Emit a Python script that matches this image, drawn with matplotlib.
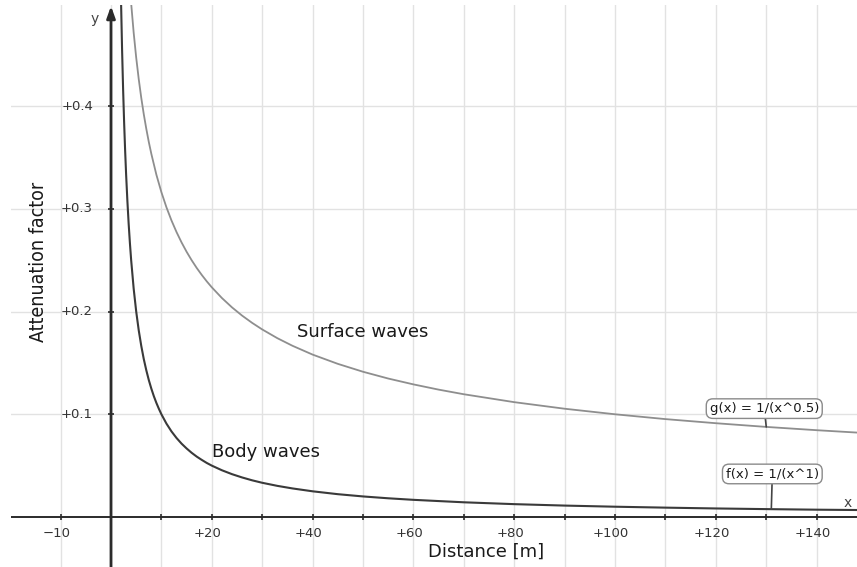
"""Затухание объёмных и поверхностных волн с расстоянием (стиль GeoGebra)."""

from __future__ import annotations

import matplotlib

matplotlib.use("Agg")

import matplotlib.pyplot as plt
from matplotlib.transforms import offset_copy


BODY_DISTANCE = [1.9, 2, 2.2, 2.4, 2.6, 2.8, 3, 3.25, 3.5, 3.75, 4, 4.5, 5,
                 5.5, 6, 6.5, 7, 7.5, 8, 8.5, 9, 9.5, 10, 11, 12, 13, 14, 15,
                 16, 17, 18, 19, 20, 22, 24, 26, 28, 30, 33, 36, 40, 45, 50,
                 55, 60, 70, 80, 90, 100, 110, 120, 131, 140, 150]
BODY_FACTOR = [0.5263, 0.5, 0.4545, 0.4167, 0.3846, 0.3571, 0.3333, 0.3077,
               0.2857, 0.2667, 0.25, 0.2222, 0.2, 0.1818, 0.1667, 0.1538,
               0.1429, 0.1333, 0.125, 0.1176, 0.1111, 0.1053, 0.1, 0.0909,
               0.0833, 0.0769, 0.0714, 0.0667, 0.0625, 0.0588, 0.0556, 0.0526,
               0.05, 0.0455, 0.0417, 0.0385, 0.0357, 0.0333, 0.0303, 0.0278,
               0.025, 0.0222, 0.02, 0.0182, 0.0167, 0.0143, 0.0125, 0.0111,
               0.01, 0.0091, 0.0083, 0.0076, 0.0071, 0.0067]

SURFACE_DISTANCE = [3.8, 4, 4.5, 5, 5.5, 6, 6.5, 7, 7.5, 8, 9, 10, 11, 12, 13,
                    14, 15, 16, 17, 18, 19, 20, 22, 24, 26, 28, 30, 33, 36, 40,
                    45, 50, 55, 60, 65, 70, 80, 90, 100, 110, 120, 130, 140, 150]
SURFACE_FACTOR = [0.513, 0.5, 0.4714, 0.4472, 0.4264, 0.4082, 0.3922, 0.378,
                  0.3651, 0.3536, 0.3333, 0.3162, 0.3015, 0.2887, 0.2774,
                  0.2673, 0.2582, 0.25, 0.2425, 0.2357, 0.2294, 0.2236, 0.2132,
                  0.2041, 0.1961, 0.189, 0.1826, 0.1741, 0.1667, 0.1581,
                  0.1491, 0.1414, 0.1348, 0.1291, 0.124, 0.1195, 0.1118,
                  0.1054, 0.1, 0.0953, 0.0913, 0.0877, 0.0845, 0.0816]

X_TICKS = [-10, 20, 40, 60, 80, 100, 120, 140]
X_TICK_LABELS = ["\u221210", "+20", "+40", "+60", "+80", "+100", "+120", "+140"]
X_MINOR = [-10, 0, 10, 20, 30, 40, 50, 60, 70, 80, 90, 100, 110, 120, 130, 140, 150]

Y_TICKS = [0.1, 0.2, 0.3, 0.4]
Y_TICK_LABELS = ["+0.1", "+0.2", "+0.3", "+0.4"]

BODY_LABEL = "f(x) = 1/(x^1)"
SURFACE_LABEL = "g(x) = 1/(x^0.5)"
BODY_LABEL_AT = 131
SURFACE_LABEL_AT = 130

X_LIMITS = (-19.84, 148.0)
Y_LIMITS = (-0.0487, 0.4985)

AXIS_COLOR = "#2b2b2b"
GRID_COLOR = "#e2e2e2"
BODY_COLOR = "#3a3a3a"
SURFACE_COLOR = "#8e8e8e"
TEXT_COLOR = "#1a1a1a"


def draw_grid_and_axes(fig: plt.Figure, ax: plt.Axes) -> None:
    """Сетка, оси с засечками и подписи делений."""
    for x in X_MINOR:
        ax.axvline(x, color=GRID_COLOR, linewidth=1.0, zorder=0)
    for y in Y_TICKS:
        ax.axhline(y, color=GRID_COLOR, linewidth=1.0, zorder=0)

    ax.axhline(0, color=AXIS_COLOR, linewidth=1.4, zorder=2)
    ax.annotate(
        "",
        xy=(0, Y_LIMITS[1] - 0.001),
        xytext=(0, Y_LIMITS[0]),
        arrowprops=dict(arrowstyle="-|>,head_length=0.7,head_width=0.25",
                        color=AXIS_COLOR, linewidth=2.0, shrinkA=0, shrinkB=0),
        zorder=3,
    )

    ax.plot(X_MINOR, [0] * len(X_MINOR), linestyle="none", marker="|",
            markersize=5, color=AXIS_COLOR, markeredgewidth=1.2, zorder=3)
    ax.plot([0] * len(Y_TICKS), Y_TICKS, linestyle="none", marker="_",
            markersize=5, color=AXIS_COLOR, markeredgewidth=1.2, zorder=3)

    x_label_tr = offset_copy(ax.transData, fig=fig, x=-4, y=-17, units="dots")
    for x, label in zip(X_TICKS, X_TICK_LABELS, strict=True):
        ax.text(x, 0, label, transform=x_label_tr, ha="center", va="center",
                fontsize=9.5, color="#333333")

    y_label_tr = offset_copy(ax.transData, fig=fig, x=-18, y=0, units="dots")
    for y, label in zip(Y_TICKS, Y_TICK_LABELS, strict=True):
        ax.text(0, y, label, transform=y_label_tr, ha="right", va="center",
                fontsize=9.5, color="#333333")

    ax.text(-3.2, 0.485, "y", ha="center", va="center", fontsize=10, color="#444444")
    ax.text(146.2, 0.0136, "x", ha="center", va="center", fontsize=10, color="#444444")


def add_function_label(ax: plt.Axes, text: str, xs: list, ys: list,
                       at: float, box_xy: tuple[float, float]) -> None:
    """Подпись функции в рамке с линией-выноской к кривой."""
    idx = xs.index(at)
    ax.annotate(
        text,
        xy=(xs[idx], ys[idx]),
        xytext=box_xy,
        ha="center",
        va="center",
        fontsize=9.5,
        color=TEXT_COLOR,
        bbox=dict(boxstyle="round,pad=0.25,rounding_size=0.5", facecolor="white",
                  edgecolor="#8a8a8a", linewidth=1.0),
        arrowprops=dict(arrowstyle="-", color="#444444", linewidth=1.2,
                        shrinkA=0, shrinkB=0),
        zorder=5,
    )


def main() -> None:
    fig = plt.figure(figsize=(8.57, 5.67), dpi=100)
    ax = fig.add_axes([11 / 857, 0, 846 / 857, 562 / 567])
    ax.set_xlim(*X_LIMITS)
    ax.set_ylim(*Y_LIMITS)
    ax.set_axis_off()

    draw_grid_and_axes(fig, ax)

    ax.plot(SURFACE_DISTANCE, SURFACE_FACTOR, color=SURFACE_COLOR, linewidth=1.3,
            solid_joinstyle="round", zorder=4)
    ax.plot(BODY_DISTANCE, BODY_FACTOR, color=BODY_COLOR, linewidth=1.5,
            solid_joinstyle="round", zorder=4)

    ax.text(49.9, 0.18, "Surface waves", ha="center", va="center",
            fontsize=13, color=TEXT_COLOR)
    ax.text(30.8, 0.063, "Body waves", ha="center", va="center",
            fontsize=13, color=TEXT_COLOR)

    add_function_label(ax, SURFACE_LABEL, SURFACE_DISTANCE, SURFACE_FACTOR,
                       SURFACE_LABEL_AT, (129.6, 0.1055))
    add_function_label(ax, BODY_LABEL, BODY_DISTANCE, BODY_FACTOR,
                       BODY_LABEL_AT, (131.2, 0.0419))

    fig.text(486 / 857, 1 - 552 / 567, "Distance [m]", ha="center", va="center",
             fontsize=13, color=TEXT_COLOR)
    fig.text(39 / 857, 1 - 262 / 567, "Attenuation factor", rotation=90,
             ha="center", va="center", fontsize=14, color=TEXT_COLOR,
             family=["Liberation Sans Narrow", "DejaVu Sans Condensed", "DejaVu Sans"],
             fontstretch="condensed")

    fig.savefig("out.png", dpi=100)
    plt.close(fig)


if __name__ == "__main__":
    main()
